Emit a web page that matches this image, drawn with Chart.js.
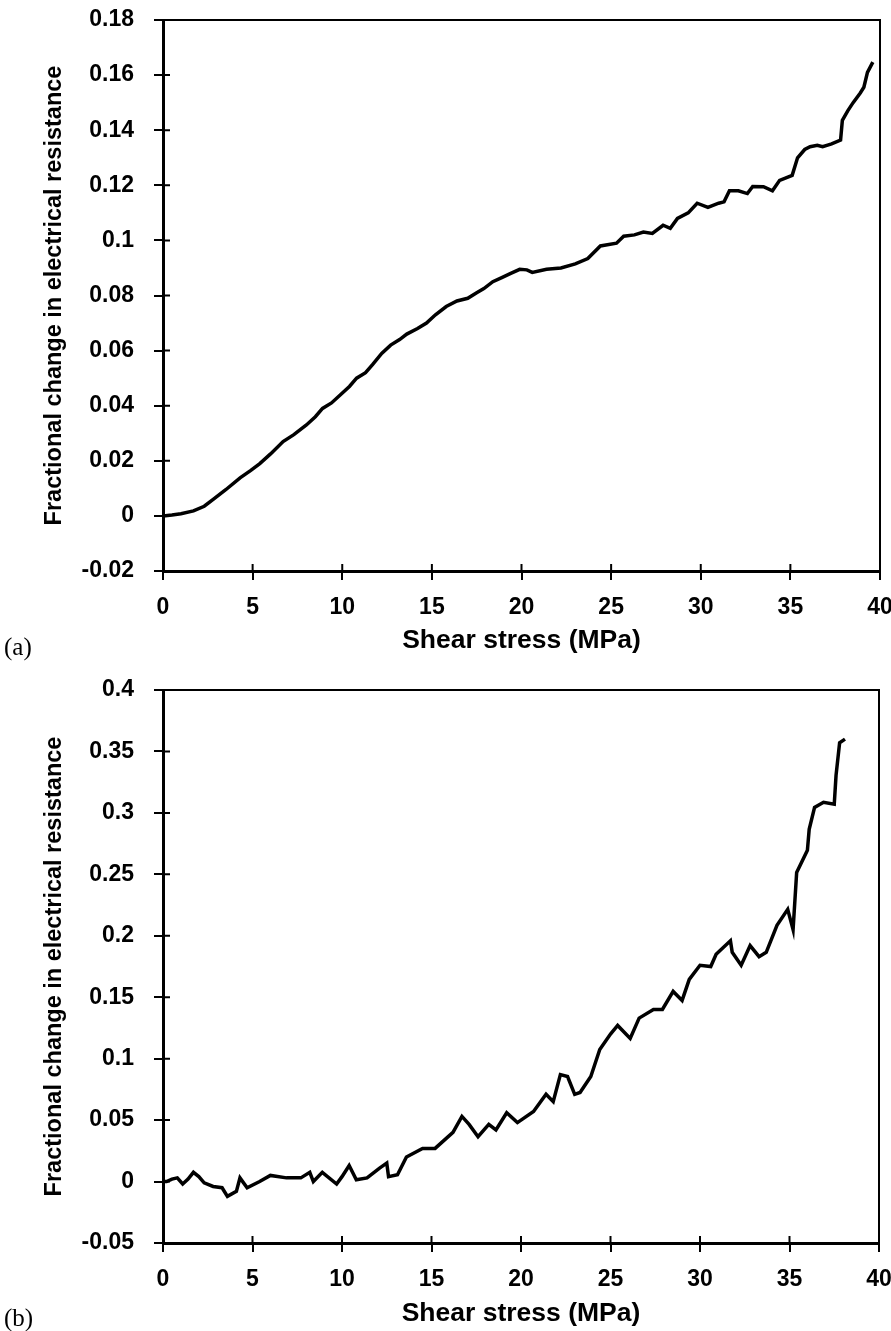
<!DOCTYPE html>
<html lang="en">
<head>
  <meta charset="UTF-8" />
  <title>Fractional change in electrical resistance vs shear stress</title>
  <script src="https://cdn.jsdelivr.net/npm/chart.js"></script>
  <style>
    body { margin: 0; background: #fff; width: 891px; height: 1331px; position: relative; overflow: hidden; }
    .box { position: absolute; left: 0; width: 891px; }
    #boxA { top: 0; height: 660px; }
    #boxB { top: 660px; height: 671px; }
    .panel { position: absolute; left: 4px; font-family: "Liberation Serif", "Times New Roman", serif; font-size: 25px; line-height: 25px; color: #000; }
  </style>
</head>
<body>
<div class="box" id="boxA"><canvas id="chartA"></canvas></div>
<div class="box" id="boxB"><canvas id="chartB"></canvas></div>
<div class="panel" style="top:634px">(a)</div>
<div class="panel" style="top:1305px">(b)</div>
<script>
// (a) shear stress (MPa) and fractional change in resistance
const stressA = [0, 0.5, 1.0, 1.7, 2.3, 2.8, 3.5, 4.3, 4.9, 5.4,
  6.0, 6.7, 7.3, 8.0, 8.5, 8.9, 9.4, 9.9, 10.4, 10.8,
  11.3, 11.7, 12.2, 12.7, 13.2, 13.6, 14.2, 14.7, 15.2, 15.8,
  16.4, 17.0, 17.5, 17.9, 18.4, 18.9, 19.4, 19.9, 20.3, 20.6,
  21.4, 22.2, 23.0, 23.7, 24.4, 25.3, 25.7, 26.3, 26.8, 27.3,
  27.9, 28.3, 28.7, 29.3, 29.8, 30.4, 31.0, 31.3, 31.6, 32.1,
  32.6, 32.9, 33.5, 34.0, 34.4, 35.1, 35.4, 35.8, 36.1, 36.5,
  36.8, 37.3, 37.8, 37.9, 38.2, 38.5, 38.9, 39.1, 39.3, 39.6];
const resistA = [0, 0.0003, 0.0008, 0.0018, 0.0035, 0.006, 0.0095, 0.0138, 0.0165, 0.019,
  0.0225, 0.027, 0.0295, 0.033, 0.036, 0.039, 0.041, 0.044, 0.047, 0.050,
  0.052, 0.055, 0.059, 0.062, 0.064, 0.066, 0.068, 0.070, 0.073, 0.076,
  0.078, 0.079, 0.081, 0.0825, 0.085, 0.0865, 0.088, 0.0895, 0.0893, 0.0884,
  0.0895, 0.090, 0.0915, 0.0934, 0.098, 0.099, 0.1015, 0.102, 0.103, 0.1025,
  0.1055, 0.1044, 0.108, 0.110, 0.1135, 0.112, 0.1135, 0.114, 0.118, 0.118,
  0.117, 0.1196, 0.1195, 0.118, 0.1218, 0.1236, 0.130, 0.133, 0.134, 0.1345,
  0.134, 0.135, 0.1364, 0.1436, 0.147, 0.150, 0.1535, 0.1556, 0.161, 0.1647];

// (b)
const stressB = [0, 0.2, 0.5, 0.8, 1.1, 1.4, 1.7, 2.0, 2.3, 2.8,
  3.3, 3.6, 4.1, 4.3, 4.7, 5.4, 6.0, 6.9, 7.7, 8.2,
  8.4, 8.9, 9.7, 10.0, 10.4, 10.8, 11.4, 12.1, 12.5, 12.6,
  13.1, 13.6, 14.5, 15.2, 16.2, 16.7, 17.1, 17.6, 18.2, 18.6,
  19.2, 19.8, 20.7, 21.4, 21.8, 22.2, 22.6, 23.0, 23.3, 23.9,
  24.4, 25.0, 25.4, 26.1, 26.6, 27.4, 27.9, 28.5, 29.0, 29.4,
  30.0, 30.6, 30.9, 31.7, 31.8, 32.3, 32.8, 33.3, 33.7, 34.3,
  34.9, 35.2, 35.4, 36.0, 36.1, 36.4, 36.9, 37.5, 37.6, 37.8, 38.1];
const resistB = [0, 0, 0.002, 0.003, -0.002, 0.002, 0.0075, 0.004, -0.001, -0.004,
  -0.005, -0.012, -0.008, 0.003, -0.005, 0, 0.005, 0.003, 0.003, 0.0075,
  0, 0.0075, -0.002, 0.004, 0.013, 0.0015, 0.003, 0.011, 0.015, 0.004,
  0.0055, 0.020, 0.027, 0.027, 0.040, 0.053, 0.0465, 0.0365, 0.0465, 0.042,
  0.056, 0.048, 0.057, 0.071, 0.065, 0.087, 0.0855, 0.071, 0.0725, 0.0855,
  0.1075, 0.12, 0.127, 0.1165, 0.133, 0.140, 0.140, 0.1547, 0.1474, 0.1645,
  0.176, 0.175, 0.185, 0.196, 0.1865, 0.176, 0.192, 0.183, 0.1865, 0.2085,
  0.2215, 0.205, 0.2516, 0.2695, 0.2866, 0.3045, 0.3086, 0.307, 0.3306, 0.357, 0.36];

const xTitle = "Shear stress (MPa)";
const yTitle = "Fractional change in electrical resistance";
const FONT = '"Liberation Sans", Arial, sans-serif';

// box top/right and the inner half of each tick mark
const framePlugin = {
  id: 'frame',
  afterDraw(chart) {
    const { ctx, chartArea: a, scales: { x, y } } = chart;
    ctx.save();
    ctx.strokeStyle = '#000';
    ctx.lineWidth = 2;
    ctx.beginPath();
    ctx.moveTo(a.left, a.top);
    ctx.lineTo(a.right, a.top);
    ctx.lineTo(a.right, a.bottom);
    x.ticks.forEach(t => {
      const px = x.getPixelForValue(t.value);
      ctx.moveTo(px, a.bottom);
      ctx.lineTo(px, a.bottom - 7);
    });
    y.ticks.forEach(t => {
      const py = y.getPixelForValue(t.value);
      ctx.moveTo(a.left, py);
      ctx.lineTo(a.left + 7, py);
    });
    ctx.stroke();
    ctx.restore();
  }
};

function makeChart(id, xs, ys, yMin, yMax, yStep, pad, xHeight, titleBottom) {
  return new Chart(document.getElementById(id), {
    type: 'line',
    data: {
      datasets: [{
        data: xs.map((v, i) => ({ x: v, y: ys[i] })),
        borderColor: '#000',
        borderWidth: 3.5,
        pointRadius: 0,
        tension: 0,
        fill: false
      }]
    },
    options: {
      responsive: true,
      maintainAspectRatio: false,
      animation: false,
      layout: { padding: pad },
      plugins: { legend: { display: false }, tooltip: { enabled: false } },
      scales: {
        x: {
          type: 'linear', min: 0, max: 40,
          afterFit: s => { s.height = xHeight; s.paddingLeft = 0; s.paddingRight = 0; },
          ticks: { stepSize: 5, color: '#000', padding: 14, font: { family: FONT, size: 23, weight: 'bold' } },
          grid: { drawOnChartArea: false, tickLength: 9, color: '#000', lineWidth: 2 },
          border: { color: '#000', width: 3 },
          title: { display: true, text: xTitle, color: '#000', padding: { top: 0, bottom: titleBottom },
                   font: { family: FONT, size: 26.5, weight: 'bold' } }
        },
        y: {
          type: 'linear', min: yMin, max: yMax,
          afterFit: s => { s.width = 163; s.paddingTop = 0; s.paddingBottom = 0; },
          ticks: { stepSize: yStep, color: '#000', padding: 20,
                   callback: v => String(+v.toFixed(2)),
                   font: { family: FONT, size: 23, weight: 'bold' } },
          grid: { drawOnChartArea: false, tickLength: 9, color: '#000', lineWidth: 2 },
          border: { color: '#000', width: 3 },
          title: { display: true, text: yTitle, color: '#000', padding: { top: 40, bottom: 0 },
                   font: { family: FONT, size: 23.5, weight: 'bold' } }
        }
      }
    },
    plugins: [framePlugin]
  });
}

makeChart('chartA', stressA, resistA, -0.02, 0.18, 0.02, { top: 20, right: 11, left: 0, bottom: 0 }, 89, 3);
makeChart('chartB', stressB, resistB, -0.05, 0.4, 0.05, { top: 30, right: 12, left: 0, bottom: 0 }, 88, 1);
</script>
</body>
</html>
